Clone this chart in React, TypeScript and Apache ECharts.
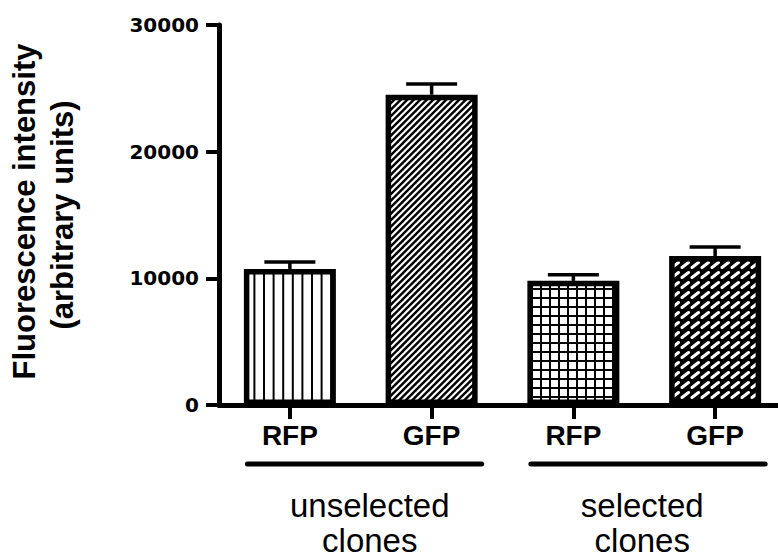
import React, { useEffect, useRef } from 'react';
import * as echarts from 'echarts';

const categories = ['RFP', 'GFP', 'RFP', 'GFP'];
const meanValues = [10740, 24500, 9800, 11760];
const semValues = [550, 840, 490, 710];
const yMin = 0;
const yMax = 30000;
const yInterval = 10000;
const groupNames = [['unselected', 'clones'], ['selected', 'clones']];
const groupMembers = [[0, 1], [2, 3]];
const yTitleLines = ['Fluorescence intensity', '(arbitrary units)'];

// layout only: horizontal nudge of each group's caption
const groupLabelShift = [9, -2];

type Tile = { image: string; imageWidth: number; imageHeight: number; repeat: string };

function makeTile(w: number, h: number, draw: (ctx: CanvasRenderingContext2D) => void): Tile {
  const c = document.createElement('canvas');
  c.width = w;
  c.height = h;
  const ctx = c.getContext('2d') as CanvasRenderingContext2D;
  draw(ctx);
  return { image: c.toDataURL(), imageWidth: w, imageHeight: h, repeat: 'repeat' };
}

function buildPatterns(): Tile[] {
  const vertical = makeTile(48, 4, (ctx) => {
    ctx.fillStyle = '#fff';
    ctx.fillRect(0, 0, 48, 4);
    ctx.fillStyle = '#000';
    for (let i = 0; i < 5; i++) ctx.fillRect(i * 9.6 + 3.8, 0, 2, 4);
  });
  const diagonal = makeTile(13, 13, (ctx) => {
    ctx.fillStyle = '#fff';
    ctx.fillRect(0, 0, 13, 13);
    ctx.strokeStyle = '#000';
    ctx.lineWidth = 2.4;
    for (let k = -3; k <= 3; k++) {
      const x = k * 6.5;
      ctx.beginPath();
      ctx.moveTo(x - 2, 15);
      ctx.lineTo(x + 15, -2);
      ctx.stroke();
    }
  });
  const grid = makeTile(9, 9, (ctx) => {
    ctx.fillStyle = '#fff';
    ctx.fillRect(0, 0, 9, 9);
    ctx.fillStyle = '#000';
    ctx.fillRect(0, 0, 9, 2);
    ctx.fillRect(0, 0, 2, 9);
  });
  const dashes = makeTile(10, 10, (ctx) => {
    ctx.fillStyle = '#000';
    ctx.fillRect(0, 0, 10, 10);
    ctx.strokeStyle = '#fff';
    ctx.lineWidth = 3;
    ctx.lineCap = 'round';
    ctx.beginPath();
    ctx.moveTo(2, 7.5);
    ctx.lineTo(8.5, 2.5);
    ctx.stroke();
  });
  return [vertical, diagonal, grid, dashes];
}

export default function App() {
  const ref = useRef<HTMLDivElement>(null);

  useEffect(() => {
    if (!ref.current) return;
    const chart = echarts.init(ref.current, null, { renderer: 'svg' });
    const patterns = buildPatterns();

    const option: any = {
      animation: false,
      backgroundColor: '#fff',
      grid: {
        left: 219,
        top: 25,
        width: 567,
        height: 380,
        outerBoundsMode: 'none',
        containLabel: false,
      },
      xAxis: {
        type: 'category',
        data: categories,
        axisLine: { show: true, lineStyle: { color: '#000', width: 5 } },
        axisTick: { show: true, alignWithLabel: true, length: 14, lineStyle: { color: '#000', width: 4 } },
        axisLabel: {
          color: '#000',
          fontFamily: 'Liberation Sans, Arial, sans-serif',
          fontWeight: 'bold',
          fontSize: 28,
          margin: 16,
        },
        splitLine: { show: false },
      },
      yAxis: {
        type: 'value',
        min: yMin,
        max: yMax,
        interval: yInterval,
        axisLine: { show: true, lineStyle: { color: '#000', width: 5 } },
        axisTick: { show: true, length: 13, lineStyle: { color: '#000', width: 4 } },
        axisLabel: {
          color: '#000',
          fontFamily: 'DejaVu Sans, sans-serif',
          fontWeight: 'bold',
          fontSize: 20,
          margin: 20,
          formatter: (v: number) => String(v),
        },
        splitLine: { show: false },
      },
      series: [
        {
          type: 'bar',
          barWidth: 92,
          z: 2,
          data: meanValues.map((v, i) => ({
            value: v,
            itemStyle: {
              color: patterns[i],
              borderColor: '#000',
              borderWidth: 5.5,
            },
          })),
        },
        {
          type: 'custom',
          z: 3,
          data: meanValues.map((v, i) => [i, v, v + semValues[i]]),
          encode: { x: 0, y: [1, 2] },
          renderItem: (params: any, api: any) => {
            const i = api.value(0);
            const base = api.coord([i, api.value(1)]);
            const top = api.coord([i, api.value(2)]);
            const half = 25.5;
            const style = { stroke: '#000', lineWidth: 3.5 };
            return {
              type: 'group',
              children: [
                { type: 'line', shape: { x1: top[0], y1: base[1], x2: top[0], y2: top[1] }, style },
                { type: 'line', shape: { x1: top[0] - half, y1: top[1], x2: top[0] + half, y2: top[1] }, style },
              ],
            };
          },
        },
      ],
    };
    chart.setOption(option);

    const cx = (i: number) => chart.convertToPixel({ xAxisIndex: 0 } as any, i) as number;
    const y0 = chart.convertToPixel({ yAxisIndex: 0 } as any, yMin) as number;
    const yTop = chart.convertToPixel({ yAxisIndex: 0 } as any, yMax) as number;
    const yMid = (y0 + yTop) / 2;

    const graphics: any[] = [];
    groupMembers.forEach((members, g) => {
      const a = cx(members[0]);
      const b = cx(members[members.length - 1]);
      graphics.push({
        type: 'line',
        shape: { x1: a - 42.5, y1: y0 + 59, x2: b + 50, y2: y0 + 59 },
        style: { stroke: '#000', lineWidth: 5, lineCap: 'round' },
      });
      groupNames[g].forEach((line, k) => {
        graphics.push({
          type: 'text',
          x: (a + b) / 2 + groupLabelShift[g],
          y: y0 + 100.5 + k * 35,
          style: {
            text: line,
            fill: '#000',
            font: '33px "Liberation Sans", Arial, sans-serif',
            textAlign: 'center',
            textVerticalAlign: 'middle',
          },
        });
      });
    });
    graphics.push({
      type: 'text',
      x: 24.5,
      y: yMid - 3.5,
      rotation: Math.PI / 2,
      style: {
        text: yTitleLines[0],
        fill: '#000',
        font: 'bold 31px "Liberation Sans", Arial, sans-serif',
        textAlign: 'center',
        textVerticalAlign: 'middle',
      },
    });
    graphics.push({
      type: 'text',
      x: 62.8,
      y: yMid,
      rotation: Math.PI / 2,
      style: {
        text: yTitleLines[1],
        fill: '#000',
        font: 'bold 31px "Liberation Sans", Arial, sans-serif',
        textAlign: 'center',
        textVerticalAlign: 'middle',
      },
    });
    chart.setOption({ graphic: graphics });

    return () => chart.dispose();
  }, []);

  return (
    <div
      ref={ref}
      style={{ position: 'fixed', left: 0, top: 0, width: 778, height: 560, background: '#fff' }}
    />
  );
}
